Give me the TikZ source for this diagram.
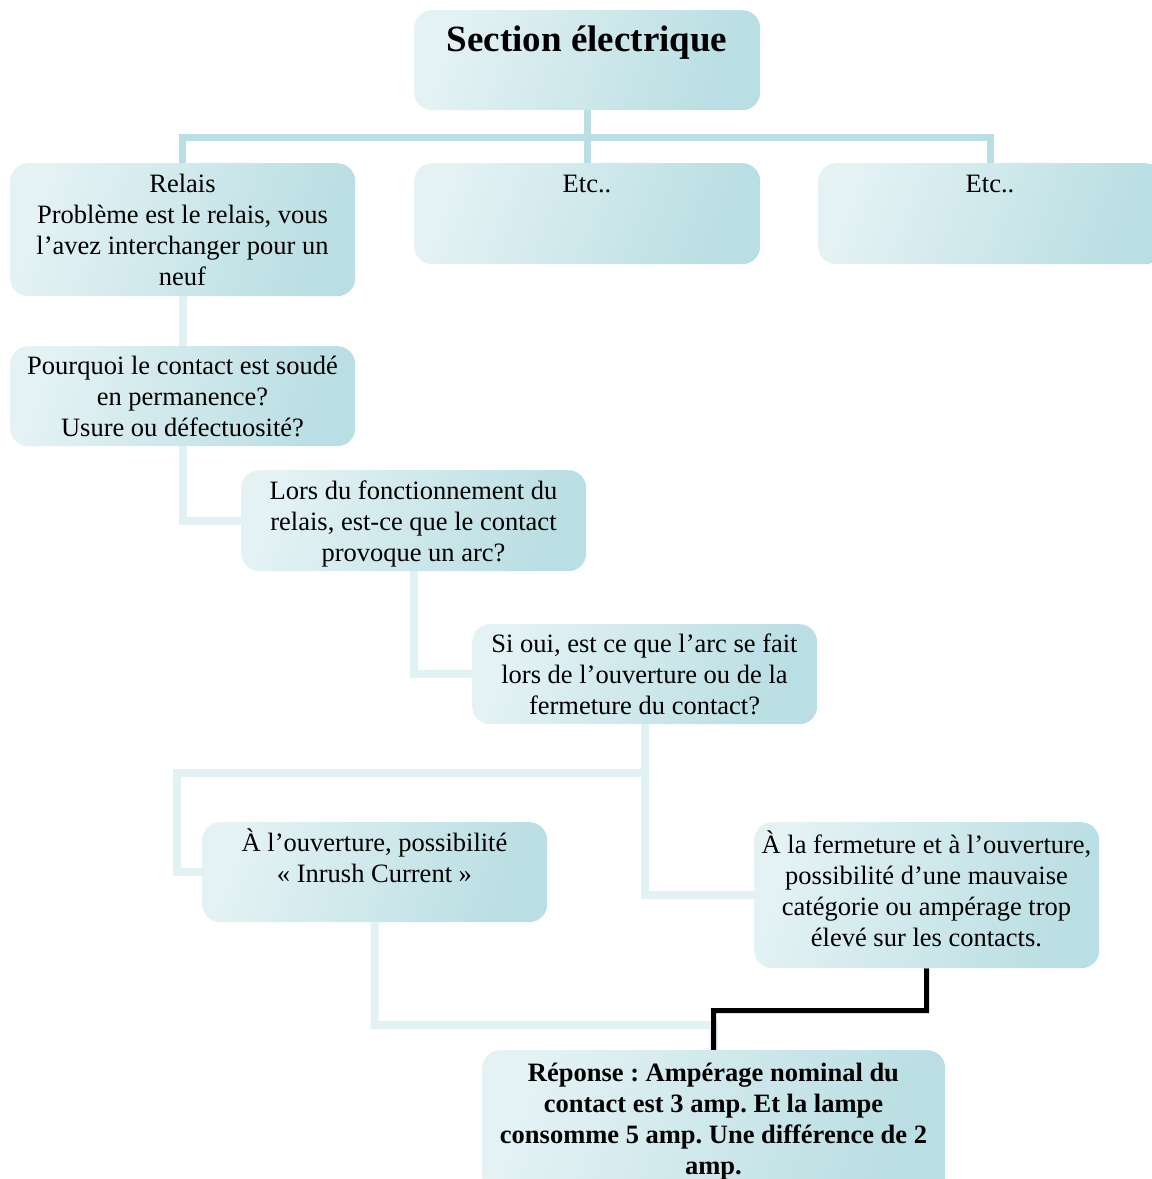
\documentclass[tikz,border=0pt]{standalone}
\usepackage{fontspec}
\setmainfont{Liberation Serif}
\usetikzlibrary{backgrounds}
\definecolor{boxL}{HTML}{E4F2F4}
\definecolor{boxR}{HTML}{B9DEE3}
\definecolor{lineA}{HTML}{B9DEE3}
\definecolor{lineB}{HTML}{E2F1F3}
\newcommand\tstrut{\rule{0pt}{25pt}}
\frenchspacing
\begin{document}
\begin{tikzpicture}[x=1pt,y=-1pt,
  box/.style={draw=none, rounded corners=18pt, anchor=north west, inner sep=0pt,
    top color=boxL, bottom color=boxR, shading angle=70},
  txt/.style={anchor=north, inner sep=0pt, align=center, font=\fontsize{26.5}{31}\selectfont},
  txtb/.style={txt, font=\bfseries\fontsize{26.5}{31}\selectfont},
  txtone/.style={anchor=base, inner sep=0pt, font=\fontsize{26.5}{31}\selectfont},
  conA/.style={draw=lineA, line width=7pt},
  conB/.style={draw=lineB, line width=8pt},
  conK/.style={draw=black, line width=5pt}]
\useasboundingbox (0,0) rectangle (1152,1179);
\clip (0,0) rectangle (1152,1179);

% boxes
\node[box, minimum width=346pt, minimum height=100pt] (sec) at (414,10) {};
\node[box, minimum width=345pt, minimum height=133pt] (rel) at (10,163) {};
\node[box, minimum width=346pt, minimum height=101pt] (etc1) at (414,163) {};
\node[box, minimum width=345pt, minimum height=101pt] (etc2) at (818,163) {};
\node[box, minimum width=345pt, minimum height=100pt] (pq) at (10,346) {};
\node[box, minimum width=345pt, minimum height=101pt] (lors) at (241,470) {};
\node[box, minimum width=345pt, minimum height=100pt] (si) at (472,624) {};
\node[box, minimum width=345pt, minimum height=100pt] (ouv) at (202,822) {};
\node[box, minimum width=345pt, minimum height=146pt] (ferm) at (754,822) {};
\node[box, minimum width=463pt, minimum height=145pt] (rep) at (482,1050) {};

% texts
\node[anchor=base, inner sep=0pt, font=\bfseries\fontsize{37}{44}\selectfont] (tsec) at (587,51) {Section électrique};
\node[txt] (trel) at (182.5,167) {\tstrut Relais\\Problème est le relais, vous\\l’avez interchanger pour un\\neuf};
\node[txtone] (tetc1) at (587,192) {Etc..};
\node[txtone] (tetc2) at (990,192) {Etc..};
\node[txt] (tpq) at (182.5,349) {\tstrut Pourquoi le contact est soudé\\en permanence?\\Usure ou défectuosité?};
\node[txt] (tlors) at (413.5,474) {\tstrut Lors du fonctionnement du\\relais, est-ce que le contact\\provoque un arc?};
\node[txt] (tsi) at (644.5,627) {\tstrut Si oui, est ce que l’arc se fait\\lors de l’ouverture ou de la\\fermeture du contact?};
\node[txt] (touv) at (374.5,826) {\tstrut À l’ouverture, possibilité\\« Inrush Current »};
\node[txt] (tferm) at (926.5,828) {\tstrut À la fermeture et à l’ouverture,\\possibilité d’une mauvaise\\catégorie ou ampérage trop\\élevé sur les contacts.};
\node[txtb] (trep) at (713.5,1056) {\tstrut Réponse : Ampérage nominal du\\contact est 3 amp. Et la lampe\\consomme 5 amp. Une différence de 2\\amp.};

% connectors
\begin{pgfonlayer}{background}
\draw[conA] (sec.south) -- (etc1.north);
\draw[conA] (sec.south) ++(0,27) -| (rel.north);
\draw[conA] (sec.south) ++(0,27) -| (etc2.north);
\draw[conB] (rel.south) -- (pq.north);
\draw[conB] (pq.south) |- (lors.west);
\draw[conB] (lors.south) |- (si.west);
\draw[conB] (si.south) |- (177,773) |- (ouv.west);
\draw[conB] (si.south) |- (ferm.west);
\draw[conB] (ouv.south) |- (713.5,1025) -- (rep.north);
\draw[conK] (ferm.south) |- (713.5,1010.5) -- (rep.north);
\end{pgfonlayer}
\end{tikzpicture}
\end{document}
